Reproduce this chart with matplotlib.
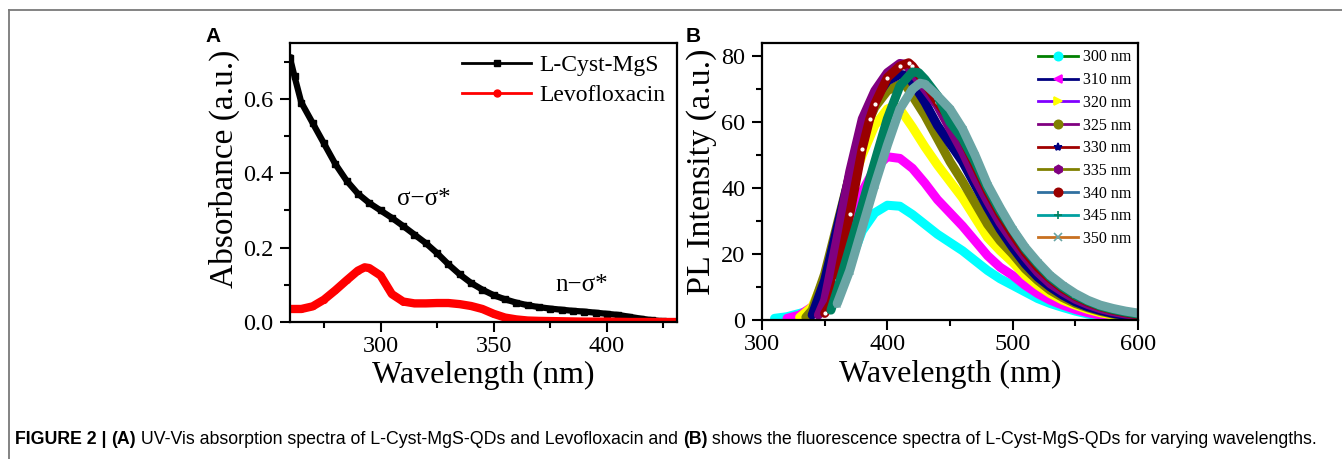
import matplotlib
matplotlib.use("Agg")
import matplotlib.pyplot as plt
from matplotlib.lines import Line2D
from matplotlib.ticker import MultipleLocator

# ---- panel A: UV-Vis absorbance ----
cyst_x = [260, 262, 265, 270, 275, 280, 285, 290, 295, 300, 305, 310, 315, 320, 325,
          330, 335, 340, 345, 350, 355, 360, 365, 370, 375, 380, 385, 390, 395, 400,
          405, 410, 415, 420, 425, 430]
cyst_y = [0.71, 0.66, 0.59, 0.535, 0.48, 0.425, 0.38, 0.345, 0.32, 0.30, 0.28, 0.258, 0.235,
          0.212, 0.185, 0.155, 0.128, 0.105, 0.087, 0.072, 0.061, 0.052, 0.045, 0.040, 0.036,
          0.033, 0.030, 0.028, 0.025, 0.022, 0.019, 0.014, 0.009, 0.005, 0.002, 0.0]
levo_x = [260, 265, 270, 275, 280, 285, 290, 293, 295, 300, 303, 305, 310, 315, 320, 325,
          330, 335, 340, 345, 350, 355, 360, 365, 370, 380, 390, 400, 410, 420, 430]
levo_y = [0.035, 0.035, 0.042, 0.060, 0.085, 0.112, 0.138, 0.147, 0.145, 0.125, 0.095, 0.075,
          0.055, 0.050, 0.050, 0.051, 0.051, 0.048, 0.043, 0.035, 0.022, 0.012, 0.007, 0.004,
          0.003, 0.002, 0.001, 0.001, 0.0, 0.0, 0.0]

# ---- panel B: PL spectra at several excitation wavelengths ----
ex_labels = ["300 nm", "310 nm", "320 nm", "325 nm", "330 nm", "335 nm", "340 nm", "345 nm", "350 nm"]
tail_x = [430, 440, 450, 460, 470, 480, 490, 500, 510, 520, 530, 540, 550, 560, 570, 580, 590, 600]
pl_x = [
    [310, 320, 330, 340, 350, 360, 370, 380, 390, 400, 410, 420] + tail_x,
    [320, 330, 340, 350, 360, 370, 380, 390, 400, 410, 420] + tail_x,
    [330, 340, 350, 360, 370, 380, 390, 400, 405, 410, 420] + tail_x,
    [335, 340, 350, 360, 370, 380, 390, 400, 410, 415, 420] + tail_x,
    [340, 350, 360, 370, 380, 390, 400, 410, 418, 420] + tail_x,
    [345, 350, 360, 370, 380, 390, 400, 410, 415, 420] + tail_x,
    [350, 355, 360, 370, 380, 386, 390, 400, 410, 417, 420] + tail_x,
    [355, 360, 370, 380, 390, 400, 410, 420, 425] + tail_x,
    [360, 370, 380, 390, 400, 410, 420, 426] + tail_x,
]
pl_y = [
    [0.5, 1, 2, 3, 6.5, 11, 17, 27, 32.5, 34.8, 34.5, 32,
     29, 26, 23.5, 21, 18, 15, 12.5, 10.5, 8.5, 6.5, 5, 3.8, 2.7, 1.8, 1.1, 0.6, 0.3, 0.1],
    [0.5, 1.5, 4, 10, 19, 29, 39, 46, 49.5, 49, 46,
     41.5, 36.5, 32.5, 28.5, 24, 19.5, 16, 13.5, 10.5, 8, 6, 4.5, 3.2, 2.2, 1.5, 1, 0.6, 0.3],
    [0.8, 4, 13, 26, 39, 50, 59, 64, 64.8, 64, 58.5,
     52.5, 47, 42, 37, 31, 25, 21, 17.5, 13.5, 10.5, 8, 6, 4.5, 3.2, 2.2, 1.5, 1, 0.6],
    [0.8, 3, 14, 29, 44, 56, 64.5, 69.5, 71.5, 71, 68,
     62, 55, 48, 42, 35.5, 29, 24, 20, 15.5, 12, 9, 6.8, 5, 3.7, 2.6, 1.8, 1.2, 0.8],
    [1.5, 12, 28, 44, 57, 67, 72.5, 74.5, 74, 72,
     66, 59, 53.5, 48, 41, 34, 27.5, 22, 17, 13, 10, 7.5, 5.5, 4, 2.9, 2, 1.4, 1],
    [1.5, 6, 25, 45, 61, 69.5, 75, 77.8, 77.5, 75,
     70, 65, 58, 51, 43, 36, 29.5, 24, 19, 14.5, 11, 8.5, 6.3, 4.7, 3.4, 2.5, 1.8, 1.3],
    [2, 5, 12, 32, 52, 61, 65.5, 73.5, 77, 78, 77,
     72, 66, 61, 55, 47, 39, 32, 26, 20.5, 16, 12.5, 9.5, 7.2, 5.4, 4, 3, 2.2, 1.6],
    [3, 9, 22, 35, 48, 61, 71, 75.2, 75,
     73, 68, 60, 55, 48, 40, 33, 27.3, 21.5, 17, 13, 10, 7.5, 5.7, 4.2, 3.2, 2.4, 1.8],
    [5, 15, 28, 41, 53, 64, 70, 71.8,
     71.5, 68, 64, 58, 50, 41, 34, 27.5, 22, 17.5, 13.5, 10.5, 8, 6, 4.5, 3.5, 2.7, 2.1],
]
line_colors = ["#008000", "#000080", "#8000ff", "#800080", "#a00000",
               "#808000", "#3070a0", "#00a0a0", "#c87020"]
mark_colors = ["#00ffff", "#ff00ff", "#ffff00", "#808000", "#000080",
               "#800080", "#990000", "#008060", "#6aa5a5"]
markers = ["o", "<", ">", "o", "*", "h", "o", "+", "x"]

serif = ["Liberation Serif", "DejaVu Serif"]
plt.rcParams["font.family"] = serif
plt.rcParams["mathtext.fontset"] = "stix"

fig = plt.figure(figsize=(13.42, 4.59), dpi=100)
W, H = 1342, 459

def style_axes(ax):
    for s in ax.spines.values():
        s.set_linewidth(1.6)
    ax.tick_params(which="both", direction="out", width=1.5, labelsize=17.5,
                   top=False, right=False)
    ax.tick_params(which="major", length=7, pad=3)
    ax.tick_params(which="minor", length=4)
    ax.tick_params(axis="y", which="major", pad=5)

# panel A
axA = fig.add_axes([290 / W, 1 - 322 / H, 387 / W, 279 / H])
axA.plot(cyst_x, cyst_y, color="black", lw=4.5, marker="s", ms=4.5, solid_joinstyle="round")
axA.plot(levo_x, levo_y, color="#ff0000", lw=6, marker="o", ms=4, solid_joinstyle="round")
axA.set_xlim(260, 431)
axA.set_ylim(0, 0.75)
axA.xaxis.set_major_locator(MultipleLocator(50))
axA.xaxis.set_minor_locator(MultipleLocator(25))
axA.yaxis.set_major_locator(MultipleLocator(0.2))
axA.yaxis.set_minor_locator(MultipleLocator(0.1))
style_axes(axA)
axA.set_xlabel("Wavelength (nm)", fontsize=23)
axA.set_ylabel("Absorbance (a.u.)", fontsize=24)
axA.xaxis.set_label_coords(0.5, -0.19)
axA.xaxis.label.set_va("center")
axA.yaxis.set_label_coords(-0.17, 0.55)
axA.yaxis.label.set_va("center")
axA.text(319, 0.33, "σ−σ*", fontsize=18, ha="center", va="center")
axA.text(389, 0.10, "n−σ*", fontsize=18, ha="center", va="center")
hA = [Line2D([], [], color="black", lw=2, marker="s", ms=5),
      Line2D([], [], color="#ff0000", lw=2, marker="o", ms=5)]
axA.legend(hA, ["L-Cyst-MgS", "Levofloxacin"], loc="upper right", frameon=False,
           fontsize=17, handlelength=2.9, handletextpad=0.35, labelspacing=0.35,
           borderaxespad=0.1, bbox_to_anchor=(1.0, 1.0))
fig.text(213 / W, 1 - 37 / H, "A", fontsize=15, weight="bold",
         family=["Liberation Sans", "DejaVu Sans"], ha="center", va="center")

# panel B
axB = fig.add_axes([762 / W, 1 - 320 / H, 376 / W, 277 / H])
for i in range(len(ex_labels)):
    axB.plot(pl_x[i], pl_y[i], color=mark_colors[i], lw=6.5,
             solid_joinstyle="round", solid_capstyle="round")
    if markers[i] in ("+", "x"):
        axB.plot(pl_x[i], pl_y[i], ls="none", marker=markers[i], ms=5, mew=1,
                 color=mark_colors[i])
    if i == 6:
        axB.plot(pl_x[i], pl_y[i], ls="none", marker="o", ms=2, color="white")
axB.set_xlim(300, 600)
axB.set_ylim(0, 84)
axB.xaxis.set_major_locator(MultipleLocator(100))
axB.xaxis.set_minor_locator(MultipleLocator(50))
axB.yaxis.set_major_locator(MultipleLocator(20))
axB.yaxis.set_minor_locator(MultipleLocator(10))
style_axes(axB)
axB.set_xlabel("Wavelength (nm)", fontsize=23)
axB.set_ylabel("PL Intensity (a.u.)", fontsize=24.5)
axB.xaxis.set_label_coords(0.5, -0.198)
axB.xaxis.label.set_va("center")
axB.yaxis.set_label_coords(-0.16, 0.536)
axB.yaxis.label.set_va("center")
hB = [Line2D([], [], color=line_colors[i], lw=2, marker=markers[i], ms=6,
             mfc=mark_colors[i], mec=mark_colors[i], mew=1.2)
      for i in range(len(ex_labels))]
axB.legend(hB, ex_labels, loc="upper right", frameon=False, fontsize=11.5,
           handlelength=2.5, handletextpad=0.35, labelspacing=0.42,
           borderaxespad=0.0, bbox_to_anchor=(1.0, 1.0))
fig.text(693 / W, 1 - 37 / H, "B", fontsize=15, weight="bold",
         family=["Liberation Sans", "DejaVu Sans"], ha="center", va="center")

# page frame
fig.add_artist(Line2D([9 / W, 1], [1 - 10 / H, 1 - 10 / H], color="#7a7a7a", lw=1.3))
fig.add_artist(Line2D([9 / W, 9 / W], [0, 1 - 10 / H], color="#7a7a7a", lw=1.3))

# caption
cap_font = ["Liberation Sans", "DejaVu Sans"]
parts = [("FIGURE 2 | ", "bold"), ("(A)", "bold"),
         (" UV-Vis absorption spectra of L-Cyst-MgS-QDs and Levofloxacin and ", "normal"),
         ("(B)", "bold"),
         (" shows the fluorescence spectra of L-Cyst-MgS-QDs for varying wavelengths.", "normal")]
prev = fig.text(15 / W, 1 - 448 / H, parts[0][0], fontsize=12.8, weight=parts[0][1],
                family=cap_font, ha="left", va="bottom")
for txt, wt in parts[1:]:
    prev = axA.annotate(txt, xy=(1, 0), xycoords=prev, ha="left", va="bottom",
                        fontsize=12.8, weight=wt, family=cap_font, annotation_clip=False)

fig.savefig("out.png", dpi=100)
